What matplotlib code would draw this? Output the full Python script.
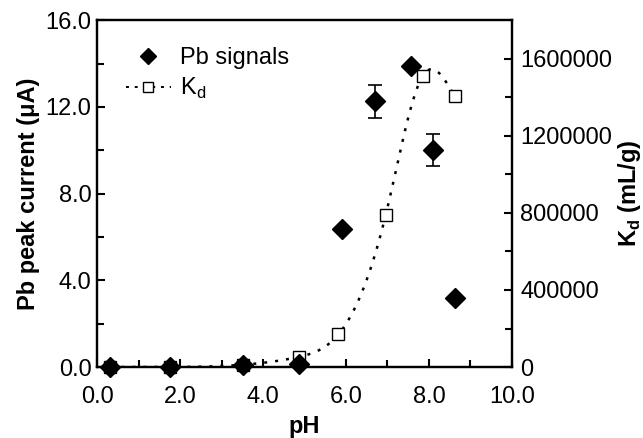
import numpy as np
import matplotlib
matplotlib.use("Agg")
import matplotlib.pyplot as plt
from matplotlib.lines import Line2D

plt.rcParams['font.family'] = ['Liberation Sans', 'DejaVu Sans']
plt.rcParams['mathtext.fontset'] = 'custom'
plt.rcParams['mathtext.rm'] = 'Liberation Sans'
plt.rcParams['mathtext.bf'] = 'Liberation Sans:bold'

# Data
pb_ph = [0.32, 1.76, 3.52, 4.87, 5.90, 6.70, 7.58, 8.09, 8.64]
pb_signal = [0.0, 0.0, 0.1, 0.15, 6.35, 12.25, 13.87, 10.0, 3.17]
pb_err = [0, 0, 0, 0, 0, 0.75, 0, 0.73, 0]

kd_ph = [0.32, 1.76, 3.52, 4.87, 5.82, 6.96, 7.85, 8.62]
kd_values = [0, 0, 12000, 53000, 170000, 790000, 1510000, 1405000]

xticks = [0.0, 2.0, 4.0, 6.0, 8.0, 10.0]
yticks_left = [0.0, 4.0, 8.0, 12.0, 16.0]
yticks_right = [0, 400000, 800000, 1200000, 1600000]


def natural_spline(x, y, xs):
    x = np.asarray(x, float); y = np.asarray(y, float)
    n = len(x)
    h = np.diff(x)
    A = np.zeros((n, n)); b = np.zeros(n)
    A[0, 0] = 1; A[-1, -1] = 1
    for i in range(1, n - 1):
        A[i, i - 1] = h[i - 1]
        A[i, i] = 2 * (h[i - 1] + h[i])
        A[i, i + 1] = h[i]
        b[i] = 3 * ((y[i + 1] - y[i]) / h[i] - (y[i] - y[i - 1]) / h[i - 1])
    c = np.linalg.solve(A, b)
    out = np.empty_like(xs)
    for k, xv in enumerate(xs):
        i = min(max(np.searchsorted(x, xv) - 1, 0), n - 2)
        dx = xv - x[i]
        bi = (y[i + 1] - y[i]) / h[i] - h[i] * (2 * c[i] + c[i + 1]) / 3
        di = (c[i + 1] - c[i]) / (3 * h[i])
        out[k] = y[i] + bi * dx + c[i] * dx ** 2 + di * dx ** 3
    return out


FS = 17

fig = plt.figure(figsize=(6.43, 4.38), dpi=100)
ax = fig.add_axes([0.151, 0.162, 0.645, 0.792])
ax2 = ax.twinx()

xs = np.linspace(kd_ph[0], kd_ph[-1], 400)
ys = np.clip(natural_spline(kd_ph, kd_values, xs), 0, None)

ax2.plot(xs, ys, linestyle=(0, (1.2, 3.2)), color='black', linewidth=1.8, zorder=2)
ax2.plot(kd_ph, kd_values, linestyle='none', marker='s', markersize=9,
         markerfacecolor='white', markeredgecolor='black', markeredgewidth=1.0,
         clip_on=False, zorder=3)

ax.errorbar(pb_ph, pb_signal, yerr=pb_err, fmt='D', color='black', markersize=10,
            ecolor='black', elinewidth=1.2, capsize=5, capthick=1.2, clip_on=False, zorder=4)
ax.set_zorder(ax2.get_zorder() + 1)
ax.patch.set_visible(False)

ax.set_xlim(0, 10)
ax.set_ylim(0, 16)
ax2.set_ylim(0, 1800000)

ax.set_xticks(xticks)
ax.set_xticklabels([f"{v:.1f}" for v in xticks])
ax.set_xticks([1, 3, 5, 7, 9], minor=True)
ax.set_yticks(yticks_left)
ax.set_yticklabels([f"{v:.1f}" for v in yticks_left])
ax.set_yticks([2, 6, 10, 14], minor=True)
ax2.set_yticks(yticks_right)
ax2.set_yticklabels([str(v) for v in yticks_right])
ax2.set_yticks([200000, 600000, 1000000, 1400000], minor=True)

for a in (ax, ax2):
    a.tick_params(which='both', direction='in', labelsize=FS, width=1.5)
    a.tick_params(which='major', length=6)
    a.tick_params(which='minor', length=5)
    for s in a.spines.values():
        s.set_linewidth(1.6)
ax.tick_params(axis='x', pad=14)
ax.tick_params(axis='y', pad=4)
ax2.tick_params(axis='y', pad=6)

ax.set_xlabel('pH', fontsize=FS, fontweight='bold', labelpad=5)
ax.set_ylabel('Pb peak current (\u03bcA)', fontsize=FS, fontweight='bold', labelpad=4)
ax2.set_ylabel(r'K$_\mathbf{d}$ (mL/g)', fontsize=FS, fontweight='bold', rotation=90, labelpad=3)

# Legend
h1 = Line2D([], [], linestyle='none', marker='D', color='black', markersize=8)
h2 = Line2D([], [], linestyle=(0, (1.5, 3)), color='black', linewidth=1.4, marker='s',
            markersize=7, markerfacecolor='white', markeredgecolor='black')
ax.legend([h1, h2], ['Pb signals', 'K$_\\mathregular{d}$'], loc='upper left', frameon=False,
          fontsize=FS, bbox_to_anchor=(0.03, 0.97), handlelength=1.9, handletextpad=0.4,
          labelspacing=0.3, borderaxespad=0.3)

fig.savefig('out.png', dpi=100)
